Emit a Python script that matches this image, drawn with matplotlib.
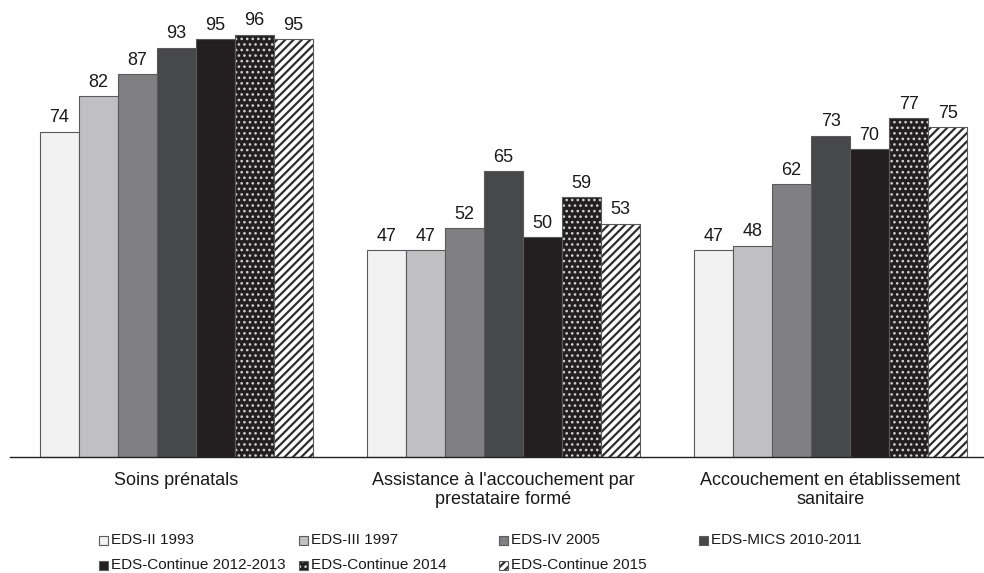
import numpy as np
import matplotlib
matplotlib.use("Agg")
import matplotlib.pyplot as plt
from matplotlib.patches import Rectangle

plt.rcParams['font.family'] = ['Liberation Sans', 'DejaVu Sans']

# data
categories = ["Soins prénatals",
              "Assistance à l'accouchement par\nprestataire formé",
              "Accouchement en établissement\nsanitaire"]
surveys = ["EDS-II 1993", "EDS-III 1997", "EDS-IV 2005", "EDS-MICS 2010-2011",
           "EDS-Continue 2012-2013", "EDS-Continue 2014", "EDS-Continue 2015"]
eds_1993 = [74, 47, 47]
eds_1997 = [82, 47, 48]
eds_2005 = [87, 52, 62]
eds_2010 = [93, 65, 73]
eds_2012 = [95, 50, 70]
eds_2014 = [96, 59, 77]
eds_2015 = [95, 53, 75]
series = [eds_1993, eds_1997, eds_2005, eds_2010, eds_2012, eds_2014, eds_2015]

# fill colour, hatch, hatch colour, hatch line width
styles = [
    ("#f2f2f2", None, None, 0),
    ("#c0c0c3", None, None, 0),
    ("#808083", None, None, 0),
    ("#47484a", None, None, 0),
    ("#231f20", None, None, 0),
    ("#231f20", "...", "#d0d0d0", 1.1),
    ("white", "////", "#2e2e2e", 1.6),
]
outline = "#5a5a5a"


def hatched(hlw, draw):
    # hatch line width is picked up when the patch is made
    with plt.rc_context({'hatch.linewidth': hlw or 1.0}):
        return draw()


fig = plt.figure(figsize=(9.84, 5.73), dpi=100)
ax = fig.add_axes([10 / 984, 1 - 457 / 573, 973 / 984, 457 / 573])

x = np.arange(len(categories))
width = 0.1193
for i, vals in enumerate(series):
    face, hatch, hcol, hlw = styles[i]
    pos = x + (i - 3) * width
    if hatch:
        hb = hatched(hlw, lambda: ax.bar(pos, vals, width, color=face, edgecolor=hcol,
                                         hatch=hatch, linewidth=0))
        for p in hb:
            if hasattr(p, "set_hatch_linewidth"):
                p.set_hatch_linewidth(hlw)
    bars = ax.bar(pos, vals, width, color=face if not hatch else "none",
                  edgecolor=outline, linewidth=0.8)
    ax.bar_label(bars, labels=[str(v) for v in vals], padding=4, fontsize=13,
                 color="#1a1a1a")

ax.set_xlim(-0.509, 2.466)
ax.set_ylim(0, 103.9)
ax.set_xticks(x)
ax.set_xticklabels(categories, fontsize=13, linespacing=1.1, color="#1a1a1a")
ax.tick_params(axis="x", length=0, pad=11)
ax.set_yticks([])
for s in ["top", "right", "left"]:
    ax.spines[s].set_visible(False)
ax.spines["bottom"].set_color("#222222")
ax.spines["bottom"].set_linewidth(1.0)

# legend: 4 columns, equally spaced
for i, name in enumerate(surveys):
    face, hatch, hcol, hlw = styles[i]
    col, row = i % 4, i // 4
    left = 99 + 200 * col
    yc = 540 + 25 * row
    box = (left / 984, 1 - (yc + 4.5) / 573)
    if hatch:
        r = hatched(hlw, lambda: Rectangle(box, 9 / 984, 9 / 573, transform=fig.transFigure,
                                           facecolor=face, edgecolor=hcol, hatch=hatch,
                                           linewidth=0))
        if hasattr(r, "set_hatch_linewidth"):
            r.set_hatch_linewidth(hlw)
        fig.add_artist(r)
    fig.add_artist(Rectangle(box, 9 / 984, 9 / 573, transform=fig.transFigure,
                             facecolor=face if not hatch else "none",
                             edgecolor=outline, linewidth=0.8))
    fig.text((left + 12) / 984, 1 - yc / 573, name, fontsize=11,
             va="center", ha="left", color="#1a1a1a")

fig.savefig("out.png", dpi=100)
